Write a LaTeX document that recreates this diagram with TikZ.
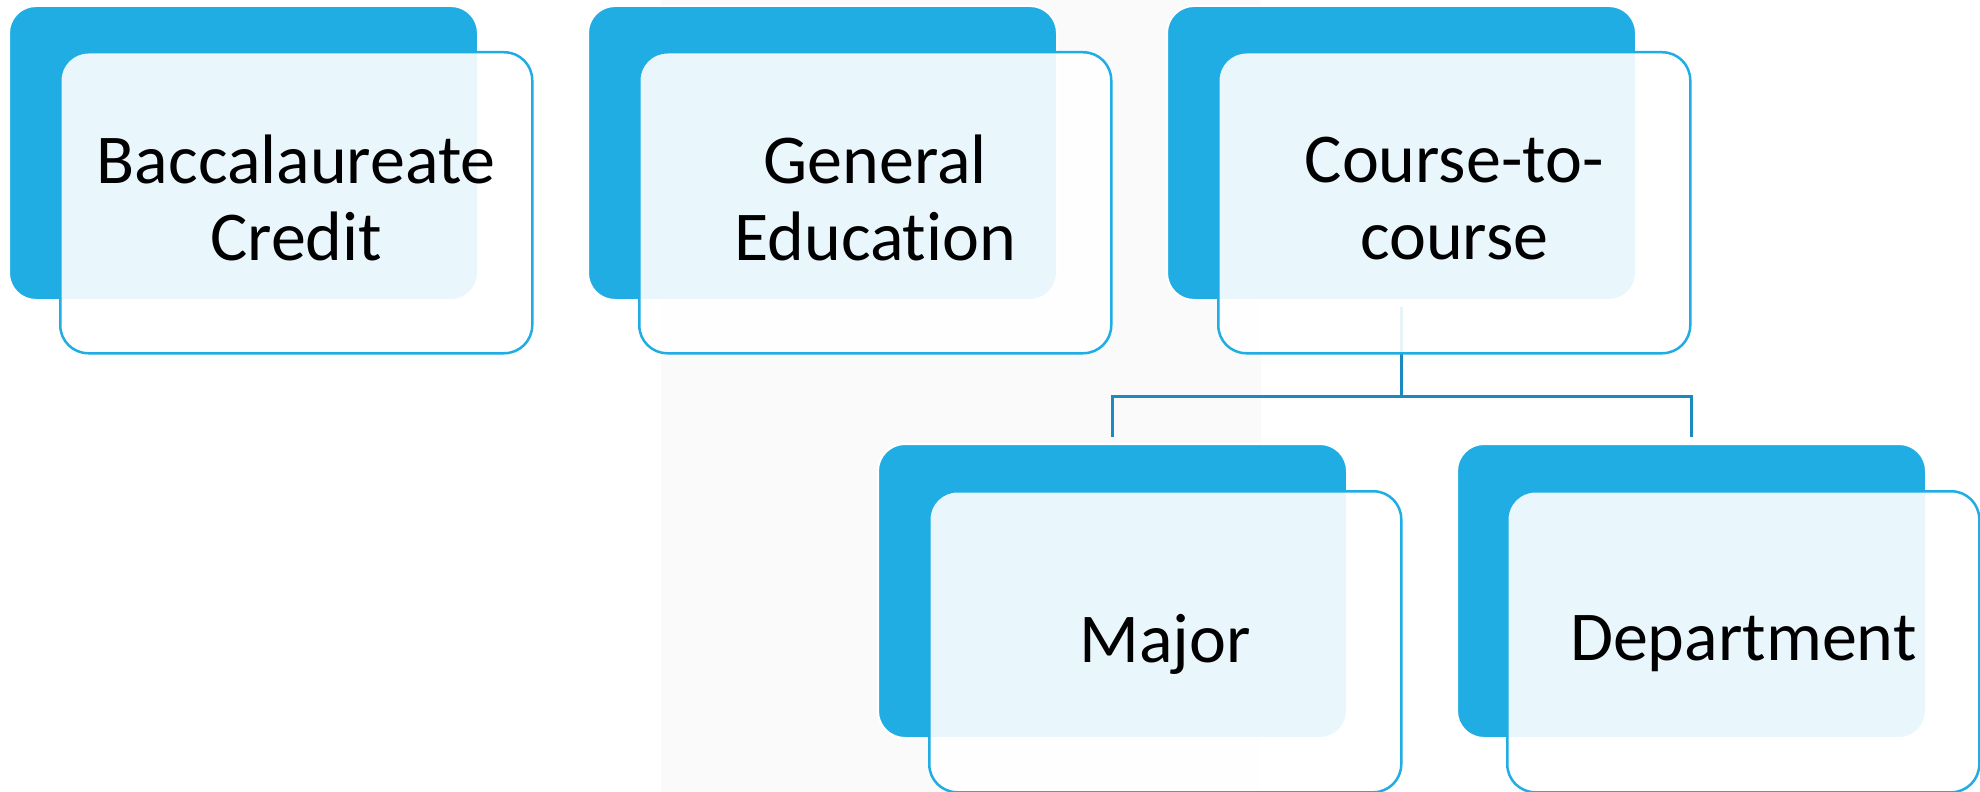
\documentclass[tikz,border=0pt]{standalone}
\usepackage{fontspec}
\setmainfont{Carlito}[Ligatures={NoCommon}]
\usetikzlibrary{calc}
\definecolor{boxblue}{HTML}{1FADE4}
\definecolor{linkblue}{HTML}{1C8AC0}
\definecolor{bggray}{HTML}{FAFAFA}
\tikzset{
  backbox/.style={draw=white, line width=2pt, fill=boxblue, rounded corners=27pt,
    minimum width=469pt, minimum height=294pt, inner sep=0pt, anchor=north west},
  frontbox/.style={draw=boxblue, line width=2.5pt, fill=white, fill opacity=0.9, draw opacity=1,
    rounded corners=28pt, minimum width=472pt, minimum height=301pt, inner sep=0pt, anchor=north west},
  label/.style={font=\fontsize{70}{77}\selectfont, align=center, inner sep=0pt, text=black},
  link/.style={draw=linkblue, line width=3pt}
}
\begin{document}
\begin{tikzpicture}[x=1pt, y=-1pt]
\useasboundingbox (0,0) rectangle (1980,792);
\fill[bggray] (661,0) rectangle (1261,792);
% back boxes
\node[backbox] (b1) at (8,5) {};
\node[backbox] (b2) at (587,5) {};
\node[backbox] (b3) at (1166,5) {};
\node[backbox] (b4) at (877,443) {};
\node[backbox] (b5) at (1456,443) {};
% connectors
\coordinate (c0) at ($(b3.south)+(0,6)$);
\coordinate (c1) at ($(b4.north)+(0,-6)$);
\coordinate (c2) at ($(b5.north)+(0,-6)$);
\draw[link] (c0) -- (c0 |- 0,396) -| (c1);
\draw[link] (c0 |- 0,396) -| (c2);
% front boxes
\node[frontbox] (f1) at (59,51) {};
\node[frontbox] (f2) at (638,51) {};
\node[frontbox] (f3) at (1217,51) {};
\node[frontbox] (f4) at (928,490) {};
\node[frontbox] (f5) at (1506,490) {};
% texts
\node[label] (t1) at ($(f1.north)+(0,147)$) {Baccalaureate\\Credit};
\node[label] (t2) at ($(f2.north)+(0,147)$) {General\\Education};
\node[label] (t3) at ($(f3.north)+(0,148)$) {Course-to-\\course};
\node[label] (t4) at ($(f4.north)+(0,154)$) {Major};
\node[label] (t5) at ($(f5.north)+(0,154)$) {Department};
\end{tikzpicture}
\end{document}
